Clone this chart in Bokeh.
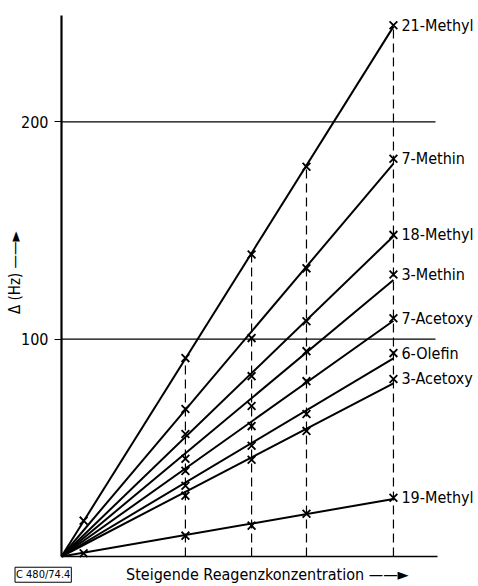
import math
import numpy as np
from bokeh.plotting import figure
from bokeh.models import Range1d, FixedTicker, ColumnDataSource, Label
from bokeh.embed import file_html
from bokeh.resources import INLINE
from bokeh.core.properties import value

# ---- data ----
conc = [1.0, 5.6, 8.59, 11.07, 15.0]          # steigende Reagenzkonzentration (arb. units)
series_names = ["21-Methyl", "7-Methin", "18-Methyl", "3-Methin",
                "7-Acetoxy", "6-Olefin", "3-Acetoxy", "19-Methyl"]
methyl21 = [16.5, 91.3, 139.0, 179.4, 244.5]
methin7 = [None, 67.9, 100.5, 132.6, 183.0]
methyl18 = [None, 56.4, 83.0, 108.3, 148.0]
methin3 = [None, 45.0, 69.3, 94.5, 129.8]
acetoxy7 = [None, 39.4, 60.0, 80.7, 109.6]
olefin6 = [None, 32.6, 51.0, 65.6, 93.6]
acetoxy3 = [None, 28.0, 44.5, 57.8, 81.7]
methyl19 = [1.5, 9.6, 14.2, 19.7, 27.0]
y_ticks = [100, 200]

series = [methyl21, methin7, methyl18, methin3, acetoxy7, olefin6, acetoxy3, methyl19]

FONT = "DejaVu Sans Condensed, Roboto, sans-serif"

p = figure(width=478, height=586, output_backend="svg", toolbar_location=None,
           x_range=Range1d(-2.756, 18.843), y_range=Range1d(-13.81, 255.87),
           min_border=0)
p.outline_line_color = None
p.background_fill_color = "white"
p.border_fill_color = "white"

# axes drawn at the data origin
p.xaxis.fixed_location = 0
p.xaxis.ticker = FixedTicker(ticks=[])
p.xaxis.major_tick_line_color = None
p.xaxis.minor_tick_line_color = None
p.xaxis.major_label_text_color = None
p.xaxis.axis_line_width = 1.6
p.xaxis.axis_line_color = "black"
p.xaxis.bounds = (0, 17.0)

p.yaxis.fixed_location = 0
p.yaxis.ticker = FixedTicker(ticks=y_ticks)
p.yaxis.major_tick_out = 7
p.yaxis.major_tick_in = 0
p.yaxis.major_tick_line_width = 1.2
p.yaxis.minor_tick_line_color = None
p.yaxis.axis_line_width = 2.2
p.yaxis.axis_line_color = "black"
p.yaxis.bounds = (0, 249)
p.yaxis.major_label_text_font = FONT
p.yaxis.major_label_text_font_size = "16px"
p.yaxis.major_label_text_color = "black"
p.yaxis.major_label_standoff = 6

# horizontal reference lines at the tick values, ending short of the labels
p.xgrid.visible = False
p.ygrid.visible = False
p.segment(x0=[0] * len(y_ticks), y0=y_ticks, x1=[16.9] * len(y_ticks), y1=y_ticks,
          line_color="black", line_width=1.2)

# dashed verticals up to the top series
top_x = conc[1:]
top_y = methyl21[1:]
p.segment(x0=top_x, y0=[0] * len(top_x), x1=top_x, y1=top_y,
          line_color="black", line_width=1.2, line_dash="9 5")

# fitted straight lines through origin + measured crosses
end_x, end_y = [], []
for vals in series:
    xs = np.array([c for c, v in zip(conc, vals) if v is not None])
    ys = np.array([v for v in vals if v is not None])
    slope = float((xs * ys).sum() / (xs * xs).sum())
    p.segment(x0=[0], y0=[0], x1=[conc[-1]], y1=[slope * conc[-1]],
              line_color="black", line_width=2.0)
    p.scatter(xs, ys, marker="x", size=11, line_width=1.8, line_color="black")
    end_x.append(conc[-1])
    end_y.append(float(ys[-1]))

lab_src = ColumnDataSource(dict(x=end_x, y=end_y, text=series_names))
p.text(x="x", y="y", text="text", source=lab_src, x_offset=8,
       text_baseline="middle", text_align="left",
       text_font=value(FONT), text_font_size="16px", text_color="black")

# axis titles and figure code
p.add_layout(Label(x=-2.08, y=130.7, text="\u0394 (Hz) \u2014\u2014\u25BA", angle=math.pi / 2,
                   text_align="center", text_baseline="middle",
                   text_font=FONT, text_font_size="15px", text_color="black"))
p.add_layout(Label(x=9.3, y=-8.4, text="Steigende Reagenzkonzentration \u2014\u2014\u25BA",
                   text_align="center", text_baseline="middle",
                   text_font=FONT, text_font_size="16px", text_color="black"))
p.add_layout(Label(x=-2.1, y=-8.4, text="C 480/74.4",
                   text_align="left", text_baseline="middle",
                   text_font=FONT, text_font_size="11px", text_color="black",
                   border_line_color="black", border_line_width=1, padding=1))

open("out.html", "w").write(file_html(p, INLINE))
